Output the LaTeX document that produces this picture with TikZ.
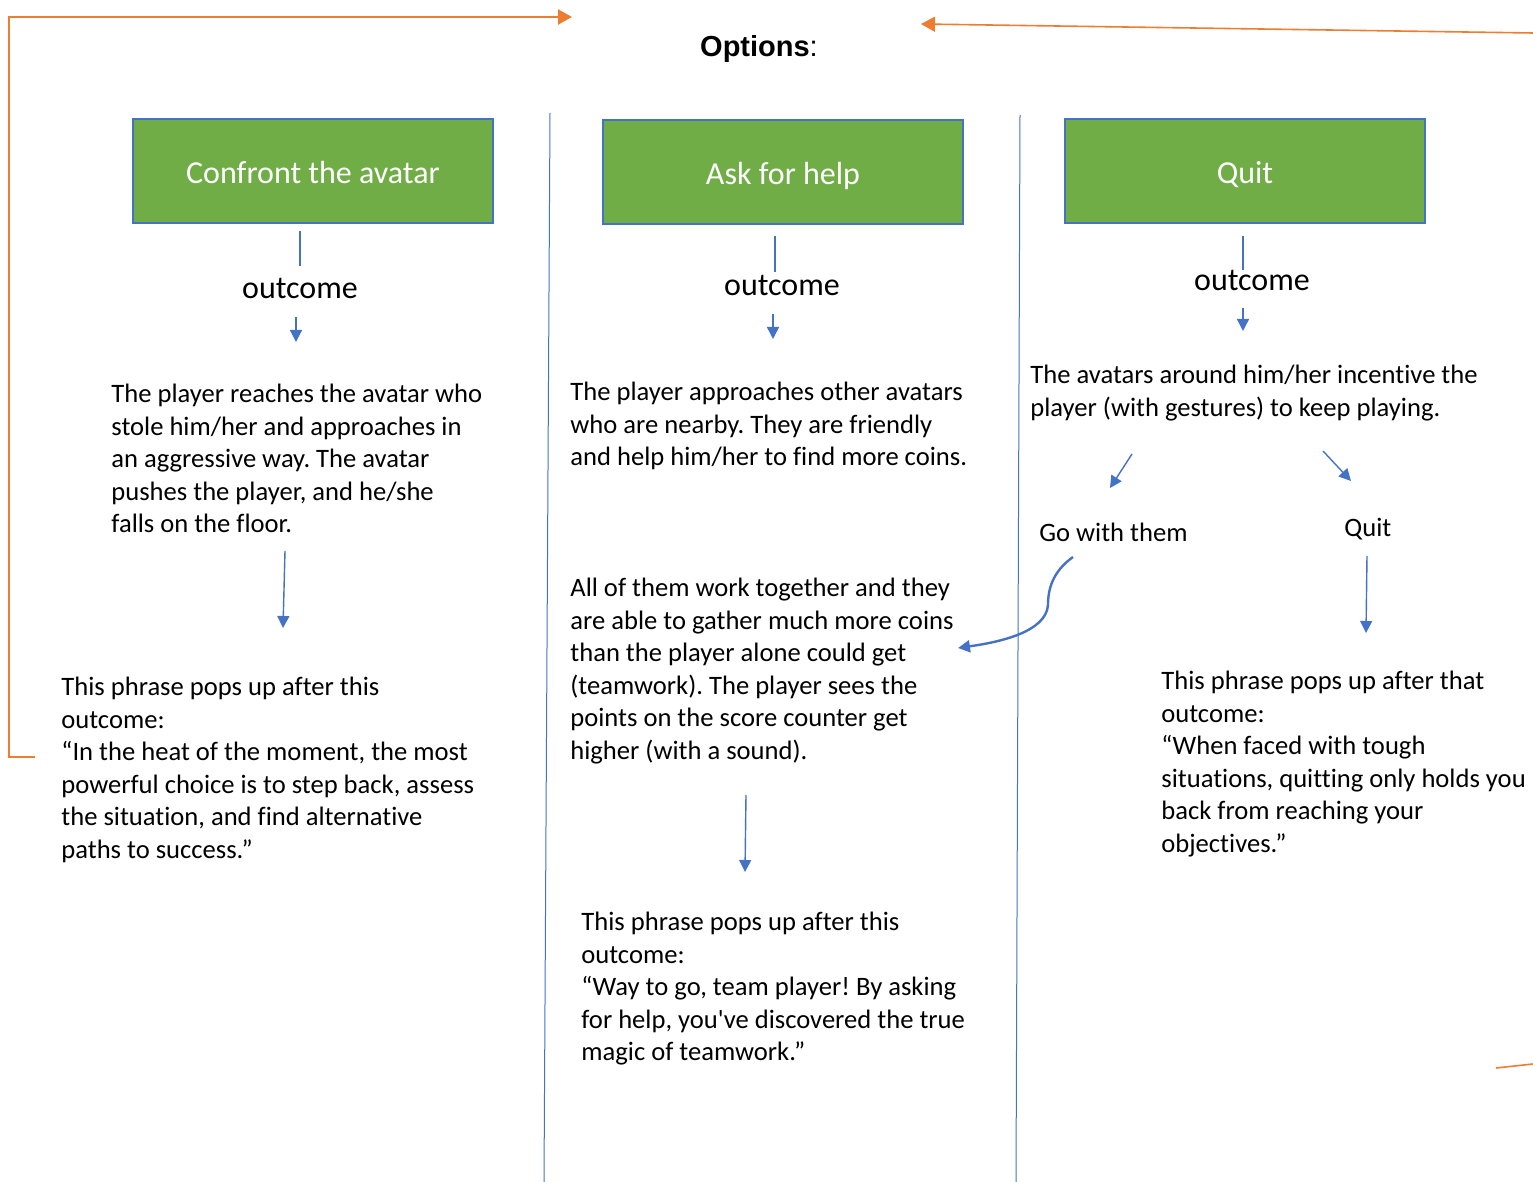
\documentclass[tikz,border=0pt]{standalone}
\usepackage{fontspec}
\setmainfont{Carlito}[Ligatures=NoCommon]
\newfontfamily\headfont{Liberation Sans}
\usetikzlibrary{arrows,arrows.meta}
\definecolor{boxgreen}{HTML}{70AD47}
\definecolor{boxblue}{HTML}{4472C4}
\definecolor{linkorange}{HTML}{ED7D31}
\frenchspacing
\tikzset{
  choice/.style={draw=boxblue, line width=0.6pt, fill=boxgreen, text=white,
    minimum width=180pt, minimum height=52pt, text height=12.4pt, text depth=0pt,
    font=\fontsize{16}{19}\selectfont},
  outlbl/.style={inner sep=0pt, font=\fontsize{16}{19}\selectfont},
  story/.style={anchor=north west, inner sep=0pt, align=left,
    font=\fontsize{13.3}{16.25}\selectfont},
  pick/.style={anchor=west, inner sep=0pt, font=\fontsize{13.3}{16.25}\selectfont},
  link/.style={draw=boxblue, line width=0.7pt},
  tip/.style={-{Triangle[length=6pt,width=6pt]}},
  divider/.style={draw=boxblue, line width=0.5pt},
  back/.style={draw=linkorange, line width=1.2pt, -{Triangle[length=7pt,width=7.5pt]}},
}
\begin{document}
\begin{tikzpicture}[x=0.5pt, y=-0.5pt]
    \useasboundingbox (0,0) rectangle (1533,1182);
    \node (opts) at (759,49) {\headfont\fontsize{14.5}{17}\selectfont\textbf{Options}:};
    \draw[divider] (550,113) to (544,1182);
    \draw[divider] (1020,115) to (1016,1182);
    \begin{scope}
      \node[choice] (confront) at (313,171) {Confront the avatar};
      \node[outlbl] (out1) at (300,289) {outcome};
      \node[story] (push) at (111,384) {The player reaches the avatar who\\
        stole him/her and approaches in\\
        an aggressive way. The avatar\\
        pushes the player, and he/she\\
        falls on the floor.};
      \node[story] (phrase1) at (61,677) {This phrase pops up after this\\
        outcome:\\
        “In the heat of the moment, the most\\
        powerful choice is to step back, assess\\
        the situation, and find alternative\\
        paths to success.”};
      \coordinate (l1a) at (300,231); \coordinate (l1b) at (300,266);
      \coordinate (a1a) at (296,317); \coordinate (a1b) at (296,342);
      \coordinate (b1a) at (285,551); \coordinate (b1b) at (283,628);
      \draw[link] (l1a) to (l1b);
      \draw[link,tip] (a1a) to (a1b);
      \draw[link,tip] (b1a) to (b1b);
    \end{scope}
    \begin{scope}
      \node[choice] (help) at (783,172) {Ask for help};
      \node[outlbl] (out2) at (782,286) {outcome};
      \node[story] (nearby) at (570,382) {The player approaches other avatars\\
        who are nearby. They are friendly\\
        and help him/her to find more coins.};
      \node[story] (together) at (570,578) {All of them work together and they\\
        are able to gather much more coins\\
        than the player alone could get\\
        (teamwork). The player sees the\\
        points on the score counter get\\
        higher (with a sound).};
      \node[story] (phrase2) at (581,912) {This phrase pops up after this\\
        outcome:\\
        “Way to go, team player! By asking\\
        for help, you\textquotesingle ve discovered the true\\
        magic of teamwork.”};
      \coordinate (l2a) at (775,236); \coordinate (l2b) at (775,272);
      \coordinate (a2a) at (773,314); \coordinate (a2b) at (773,339);
      \coordinate (b2a) at (746,795); \coordinate (b2b) at (745,872);
      \draw[link] (l2a) to (l2b);
      \draw[link,tip] (a2a) to (a2b);
      \draw[link,tip] (b2a) to (b2b);
    \end{scope}
    \begin{scope}
      \node[choice] (quit) at (1245,171) {Quit};
      \node[outlbl] (out3) at (1252,281) {outcome};
      \node[story] (cheer) at (1030,365) {The avatars around him/her incentive the\\
        player (with gestures) to keep playing.};
      \node[pick] (gowith) at (1039,532) {Go with them};
      \node[pick] (quitnow) at (1344,529) {Quit};
      \node[story] (phrase3) at (1161,671) {This phrase pops up after that\\
        outcome:\\
        “When faced with tough\\
        situations, quitting only holds you\\
        back from reaching your\\
        objectives.”};
      \coordinate (l3a) at (1243,236); \coordinate (l3b) at (1243,270);
      \coordinate (a3a) at (1243,308); \coordinate (a3b) at (1243,331);
      \coordinate (g3a) at (1132,454); \coordinate (g3b) at (1110,488);
      \coordinate (q3a) at (1323,451); \coordinate (q3b) at (1351,481);
      \coordinate (b3a) at (1367,556); \coordinate (b3b) at (1366,633);
      \coordinate (s3a) at (1073,557); \coordinate (s3b) at (958,648);
      \draw[link] (l3a) to (l3b);
      \draw[link,tip] (a3a) to (a3b);
      \draw[link,tip] (g3a) to (g3b);
      \draw[link,tip] (q3a) to (q3b);
      \draw[link,tip] (b3a) to (b3b);
      \draw[link,tip,line width=1.2pt] (s3a) .. controls (1052,572) and (1048,590) .. (1048,605)
        .. controls (1046,632) and (1000,642) .. (s3b);
    \end{scope}
      \coordinate (o1) at (35,757); \coordinate (o2) at (572,17);
      \coordinate (o3) at (1533,33); \coordinate (o4) at (921,24);
      \coordinate (o5) at (1533,1064); \coordinate (o6) at (1496,1068);
      \draw[back] (o1) -| (9,17) -- (o2);
      \draw[back,line width=0.8pt] (o3) to (o4);
      \draw[back,-,line width=0.8pt] (o5) to (o6);
  \end{tikzpicture}
\end{document}
